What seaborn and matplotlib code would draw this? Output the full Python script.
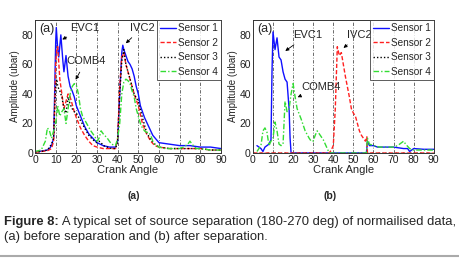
import matplotlib
matplotlib.use("Agg")
import matplotlib.pyplot as plt
import seaborn as sns
from matplotlib.lines import Line2D

sns.set_style("white")
plt.rcParams['font.family'] = ['Liberation Sans', 'DejaVu Sans']

labels = ['Sensor 1', 'Sensor 2', 'Sensor 3', 'Sensor 4']
colors = ['#1010ff', '#ff2020', '#000000', '#33dd33']
styles = ['-', (0, (3, 1.5)), (0, (1, 1.5)), (0, (4, 1.5, 1, 1.5))]
ticks_x = [0, 10, 20, 30, 40, 50, 60, 70, 80, 90]
ticks_y = [0, 20, 40, 60, 80]

# (a) before separation
a1_x = [0, 2, 4, 6, 7, 8, 9, 9.5, 10, 10.3, 11, 11.5, 12.5, 13.5, 14, 15, 16, 17, 18, 19, 20, 22, 24, 26, 28, 30,
        33, 36, 39, 40, 41, 42, 42.5, 43, 44, 45, 46, 47, 48, 49, 50, 51, 52, 53, 55, 57, 60, 65, 70, 75, 80, 85, 90]
a1_y = [1, 1, 1.5, 2, 3, 5, 10, 40, 75, 85, 70, 65, 80, 62, 55, 66, 52, 45, 42, 38, 32, 25, 18, 13, 10, 7,
        5, 4, 4, 8, 40, 68, 73, 70, 66, 62, 60, 57, 52, 45, 40, 32, 28, 24, 18, 12, 7, 6, 5, 5, 4, 4, 3]
a2_x = [0, 3, 6, 8, 9, 9.5, 10, 10.5, 11, 12, 13, 14, 15, 16, 17, 18, 19, 20, 22, 24, 26, 28, 30, 33, 36, 39,
        40, 41, 42, 43, 44, 45, 46, 47, 48, 50, 52, 54, 56, 58, 60, 65, 70, 75, 80, 85, 90]
a2_y = [0.5, 1, 1.5, 3, 8, 30, 60, 70, 72, 50, 40, 30, 35, 40, 38, 33, 28, 24, 17, 12, 8, 5, 4, 3, 3, 3,
        10, 45, 65, 68, 60, 55, 50, 45, 40, 32, 20, 13, 8, 5, 4, 3, 3, 3, 3, 2, 2]
a3_x = [0, 3, 6, 7, 8, 9, 9.5, 10, 10.5, 11, 12, 13, 14, 15, 16, 17, 18, 19, 20, 22, 24, 26, 28, 30, 31, 32, 33,
        35, 37, 39, 40, 41, 42, 43, 44, 45, 46, 47, 48, 50, 52, 54, 56, 58, 60, 65, 70, 75, 80, 85, 90]
a3_y = [0.5, 1, 2, 4, 6, 10, 30, 45, 50, 45, 42, 38, 30, 27, 38, 33, 30, 28, 27, 22, 17, 12, 9, 7, 8, 7, 5,
        4, 3, 3, 8, 40, 62, 70, 60, 55, 50, 45, 40, 35, 24, 14, 9, 6, 4, 3, 3, 3, 3, 2, 2]
a4_x = [0, 3, 5, 6, 7, 8, 9, 10, 11, 12, 13, 14, 15, 16, 17, 18, 19, 20, 21, 22, 23, 25, 27, 29, 30, 31, 32, 33,
        35, 37, 39, 40, 41, 42, 43, 44, 45, 46, 47, 48, 49, 50, 51, 52, 53, 54, 55, 56, 57, 58, 60, 63, 66,
        70, 72, 74, 75, 76, 78, 80, 85, 90]
a4_y = [1, 2, 8, 17, 15, 10, 15, 20, 32, 25, 28, 30, 20, 30, 40, 45, 47, 46, 40, 30, 25, 20, 15, 11, 8, 10, 15, 13,
        10, 6, 5, 10, 20, 40, 48, 50, 49, 47, 42, 38, 30, 25, 20, 17, 15, 14, 14, 12, 8, 6, 4, 3, 3,
        3, 4, 6, 8, 6, 3, 3, 2, 2]

# (b) after separation
b1_x = [2, 3, 4, 5, 6, 7, 8, 9, 9.5, 10, 11, 12, 13, 14, 15, 16, 17, 18, 18.5, 19, 56.5, 57, 58, 60, 62, 65, 70,
        75, 77, 78, 80, 85, 90]
b1_y = [5, 4, 3, 1, 4, 5, 6, 9, 55, 82, 70, 78, 65, 63, 55, 50, 48, 30, 10, 0, 0, 8, 5, 5, 4, 4, 4,
        3, 3, 1, 3, 2.5, 2.5]
b2_x = [0, 38, 39, 40, 41, 42, 43, 44, 45, 46, 47, 48, 49, 50, 51, 52, 53, 54, 55, 56, 56.7, 57, 90]
b2_y = [0, 0, 2, 5, 30, 72, 66, 68, 60, 52, 45, 38, 30, 27, 25, 20, 15, 12, 10, 8, 11, 0, 0]
b3_x = [0, 30, 60, 90]
b3_y = [0, 0, 0, 0]
b4_x = [2, 4, 5, 6, 7, 8, 9, 10, 11, 12, 13, 14, 15, 16, 17, 18, 19, 20, 21, 22, 24, 26, 28, 29, 30, 31, 32, 33,
        35, 37, 38, 56.5, 57, 58, 60, 63, 66, 70, 72, 74, 75, 76, 78, 80, 85, 90]
b4_y = [1, 5, 15, 17, 14, 5, 8, 10, 21, 15, 6, 5, 6, 35, 28, 30, 40, 47, 38, 30, 23, 15, 10, 8, 8, 12, 15, 13,
        9, 3, 0, 0, 10, 6, 5, 4, 4, 4, 5, 7, 8, 6, 3, 2, 2, 2]

fig = plt.figure(figsize=(4.59, 2.58), dpi=100)
ax_a = fig.add_axes([0.0763, 0.407, 0.405, 0.515])
ax_b = fig.add_axes([0.551, 0.407, 0.394, 0.515])

panels = [
    (ax_a, [(a1_x, a1_y), (a2_x, a2_y), (a3_x, a3_y), (a4_x, a4_y)]),
    (ax_b, [(b1_x, b1_y), (b2_x, b2_y), (b3_x, b3_y), (b4_x, b4_y)]),
]

for ax, series in panels:
    for v in ticks_x[1:-1]:
        ax.axvline(v, color='#555555', lw=0.6, ls=(0, (4, 2, 1, 2)), zorder=0)
    for (xs, ys), lab, c, st in zip(series, labels, colors, styles):
        sns.lineplot(x=xs, y=ys, ax=ax, color=c, linestyle=st, lw=1.0, label=lab)
    ax.set_xlim(0, 90)
    ax.set_ylim(0, 90)
    ax.set_xticks(ticks_x)
    ax.set_yticks(ticks_y)
    ax.tick_params(labelsize=7.5, direction='in', length=2, pad=1.5, colors='#222222')
    ax.set_xlabel('Crank Angle', fontsize=8, labelpad=0)
    ax.set_ylabel('Amplitude (ubar)', fontsize=7, labelpad=1)
    for s in ax.spines.values():
        s.set_color('#333333')
        s.set_linewidth(0.7)
    leg = ax.legend(loc='upper right', fontsize=7.2, frameon=True, fancybox=False, borderaxespad=0,
                    handlelength=1.6, labelspacing=0.45, handletextpad=0.2, borderpad=0.3)
    leg.get_frame().set_edgecolor('#333333')
    leg.get_frame().set_linewidth(0.7)
    ax.text(2, 84, '(a)', fontsize=9, va='center')

arr = dict(arrowstyle='-|>', color='k', lw=0.6, mutation_scale=5)
ax_a.annotate('EVC1', xy=(12, 76), xytext=(17, 85), fontsize=8, va='center', arrowprops=arr)
ax_a.annotate('IVC2', xy=(43, 73), xytext=(46, 85), fontsize=8, va='center', arrowprops=arr)
ax_a.annotate('COMB4', xy=(19, 48), xytext=(15, 62), fontsize=8, va='center', arrowprops=arr)
ax_b.annotate('EVC1', xy=(15, 68), xytext=(20, 80), fontsize=8, va='center', arrowprops=arr)
ax_b.annotate('IVC2', xy=(44, 70), xytext=(47, 80), fontsize=8, va='center', arrowprops=arr)
ax_b.annotate('COMB4', xy=(21, 37), xytext=(24, 45), fontsize=8, va='center', arrowprops=arr)

fig.text(134 / 459, 1 - 196 / 258, '(a)', fontsize=7.5, fontweight='bold', ha='center', va='center')
fig.text(330 / 459, 1 - 196 / 258, '(b)', fontsize=7.5, fontweight='bold', ha='center', va='center')

t1 = fig.text(4 / 459, 1 - 222 / 258, 'Figure 8:', fontsize=9.4, fontweight='bold', va='center')
ax_a.annotate(' A typical set of source separation (180-270 deg) of normailised data,',
              xy=(1, 0), xycoords=t1, fontsize=9.4, va='bottom', ha='left', annotation_clip=False)
fig.text(4 / 459, 1 - 237 / 258, '(a) before separation and (b) after separation.', fontsize=9.4, va='center')
fig.add_artist(Line2D([0, 1], [1 - 256 / 258, 1 - 256 / 258], color='#aaaaaa', lw=1.5))

fig.savefig('out.png', dpi=100)
